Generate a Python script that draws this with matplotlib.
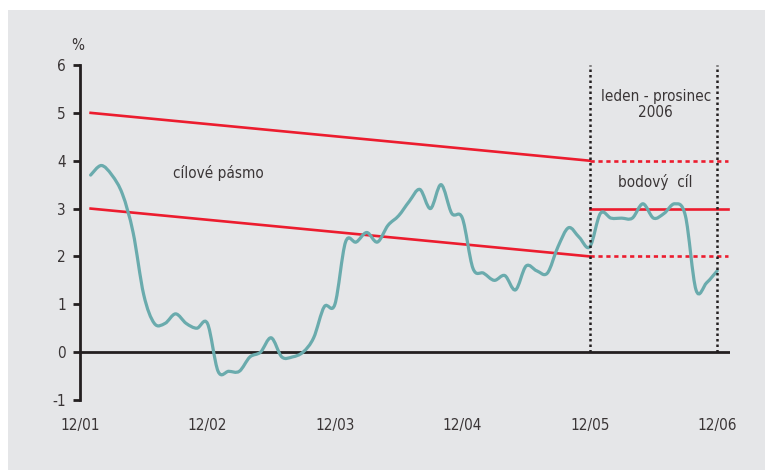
import matplotlib
matplotlib.use("Agg")
import matplotlib.pyplot as plt
from matplotlib.patches import Rectangle, PathPatch
from matplotlib.path import Path

# ── data: months since 12/2001 (0 = 12/01, 12 = 12/02, ...) ────────────
tick_pos = [0, 12, 24, 36, 48, 60]
tick_lbl = ["12/01", "12/02", "12/03", "12/04", "12/05", "12/06"]

cpi = [
    3.7, 3.9, 3.7, 3.3, 2.5, 1.2, 0.6, 0.6, 0.8, 0.6, 0.5, 0.6,       # 2002
    -0.4, -0.4, -0.4, -0.1, 0.0, 0.3, -0.1, -0.1, 0.0, 0.3, 0.95, 1.0,  # 2003
    2.3, 2.3, 2.5, 2.3, 2.65, 2.85, 3.15, 3.4, 3.0, 3.5, 2.9, 2.8,     # 2004
    1.75, 1.65, 1.5, 1.6, 1.3, 1.8, 1.7, 1.65, 2.2, 2.6, 2.4, 2.2,     # 2005
    2.9, 2.8, 2.8, 2.8, 3.1, 2.8, 2.9, 3.1, 2.85, 1.3, 1.45, 1.7,      # 2006
]
cpi_x = list(range(1, len(cpi) + 1))

band_x = [1, 48]
band_hi = [5, 4]
band_lo = [3, 2]
tail_x = [48, 61]
point_target = [3, 3]
tail_hi = [4, 4]
tail_lo = [2, 2]
period_x = [48, 60]

RED = "#ec1c2e"
TEAL = "#6aabad"
INK = "#231f20"
TXT = "#3a3536"

plt.rcParams["font.family"] = ["DejaVu Sans"]
plt.rcParams["font.stretch"] = "condensed"
plt.rcParams["axes.unicode_minus"] = False
FS = 11


def smooth_path(xs, ys):
    # Catmull-Rom through the monthly points, drawn as cubic Bezier segments
    verts = [(xs[0], ys[0])]
    codes = [Path.MOVETO]
    n = len(xs)
    for i in range(n - 1):
        x0, y0 = (xs[i - 1], ys[i - 1]) if i > 0 else (xs[i], ys[i])
        x1, y1 = xs[i], ys[i]
        x2, y2 = xs[i + 1], ys[i + 1]
        x3, y3 = (xs[i + 2], ys[i + 2]) if i + 2 < n else (x2, y2)
        verts += [(x1 + (x2 - x0) / 6, y1 + (y2 - y0) / 6),
                  (x2 - (x3 - x1) / 6, y2 - (y3 - y1) / 6),
                  (x2, y2)]
        codes += [Path.CURVE4] * 3
    return Path(verts, codes)


fig = plt.figure(figsize=(7.65, 4.7), dpi=100, facecolor="white")
fig.patches.append(Rectangle((8 / 765, 0), 1, 460 / 470, transform=fig.transFigure,
                             facecolor="#e5e6e8", edgecolor="none", zorder=-10))

ax = fig.add_axes([80 / 765, 70 / 470, 650 / 765, 335 / 470])
ax.set_zorder(5)
ax.set_facecolor("none")
ax.set_xlim(0, 61.2)
ax.set_ylim(-1, 6)

for s in ["top", "right", "bottom"]:
    ax.spines[s].set_visible(False)
ax.spines["left"].set_color(INK)
ax.spines["left"].set_linewidth(2)

ax.set_yticks(range(-1, 7))
ax.tick_params(axis="y", length=5, width=2, color=INK, labelsize=FS,
               labelcolor=TXT, pad=5)
ax.set_xticks(tick_pos)
ax.set_xticklabels(tick_lbl)
ax.tick_params(axis="x", length=0, labelsize=FS, labelcolor=TXT, pad=13)

ax.axhline(0, color=INK, lw=2, zorder=2)

# target band
ax.plot(band_x, band_hi, color=RED, lw=1.9, zorder=3)
ax.plot(band_x, band_lo, color=RED, lw=1.9, zorder=3)
ax.plot(tail_x, point_target, color=RED, lw=1.9, zorder=3)
ax.plot(tail_x, tail_hi, color=RED, lw=1.9, ls=(0, (1.6, 1.4)), zorder=3)
ax.plot(tail_x, tail_lo, color=RED, lw=1.9, ls=(0, (1.6, 1.4)), zorder=3)

# inflation
ax.add_patch(PathPatch(smooth_path(cpi_x, cpi), facecolor="none", edgecolor=TEAL,
                       lw=2.3, capstyle="round", joinstyle="round", zorder=4))

# 2006 period
for xv in period_x:
    ax.plot([xv, xv], [0, 6], color=INK, lw=1.8, ls=(0, (1, 1.2)), zorder=5)

ax.text(13.0, 3.74, "cílové pásmo", ha="center", va="center", fontsize=FS, color=TXT)
ax.text(54.2, 5.17, "leden - prosinec\n2006", ha="center", va="center",
        fontsize=FS, color=TXT, linespacing=1.05)
ax.text(54.2, 3.56, "bodový  cíl", ha="center", va="center", fontsize=FS, color=TXT)
fig.text(78 / 765, 1 - 45 / 470, "%", ha="center", va="center", fontsize=FS, color=TXT)

fig.savefig("out.png", dpi=100)
